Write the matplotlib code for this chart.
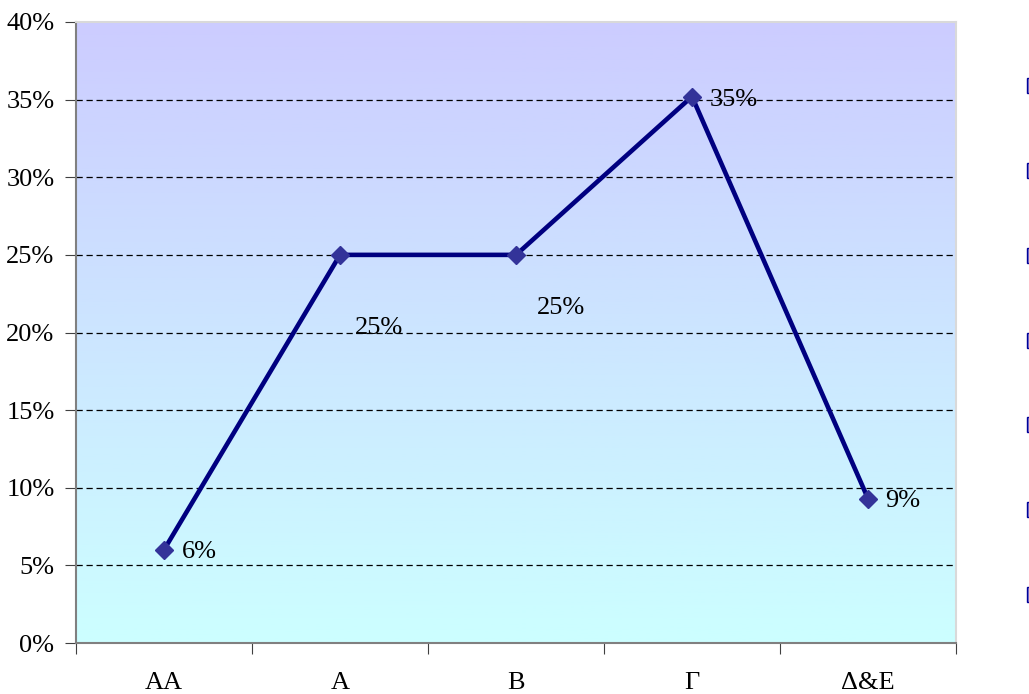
import matplotlib
matplotlib.use("Agg")
import matplotlib.pyplot as plt
import numpy as np
from matplotlib.patches import Patch
from matplotlib.colors import LinearSegmentedColormap

# data
categories = ["AA", "A", "B", "Γ", "Δ&E"]
shares = [6.0, 25.0, 25.0, 35.2, 9.3]
# where each data label sits relative to its point (pixels)
label_offsets = [(18, -2), (15, -73), (21, -53), (18, -3), (17, -2)]
y_ticks = [0, 5, 10, 15, 20, 25, 30, 35, 40]
n_legend_keys = 7

plt.rcParams["font.family"] = ["Liberation Serif", "DejaVu Serif"]
FS = 19

fig = plt.figure(figsize=(10.29, 6.94), dpi=100)
ax = fig.add_axes([76 / 1029, 51 / 694, 880 / 1029, 621 / 694])

x = np.arange(len(categories))
ax.set_xlim(-0.5, len(categories) - 0.5)
ax.set_ylim(0, 40)

# vertical gradient fill, lavender at top to pale cyan at bottom
grad = LinearSegmentedColormap.from_list("bg", ["#CCFFFF", "#CCCCFF"])
ax.imshow(np.linspace(0, 1, 256).reshape(-1, 1), aspect="auto", cmap=grad,
          origin="lower", extent=[0, 1, 0, 1], transform=ax.transAxes, zorder=0)

for t in y_ticks[1:-1]:
    ax.axhline(t, color="black", lw=0.9, ls=(0, (5, 3)), zorder=1)

ax.plot(x, shares, color="#000080", lw=3.3, marker="D", markersize=9,
        markerfacecolor="#333399", markeredgecolor="#333399", zorder=3)

for xi, v, (dx, dy) in zip(x, shares, label_offsets):
    ax.annotate(f"{v:.0f}%", (xi, v), xytext=(dx, dy), textcoords="offset pixels",
                ha="left", va="center", fontsize=FS, color="black", zorder=4)

ax.set_yticks(y_ticks)
ax.set_yticklabels([f"{t}%" for t in y_ticks], fontsize=FS)
ax.set_xticks(np.arange(len(categories) + 1) - 0.5)
ax.set_xticklabels([])
ax.set_xticks(x, minor=True)
ax.set_xticklabels(categories, minor=True, fontsize=FS)
ax.tick_params(axis="x", which="minor", length=0, pad=21)
ax.tick_params(axis="x", which="major", length=8, direction="out", color="#404040")
ax.tick_params(axis="y", length=8, direction="out", color="#404040", pad=7.5)

for side in ["left", "bottom"]:
    ax.spines[side].set_color("#808080")
    ax.spines[side].set_linewidth(1.5)
for side in ["top", "right"]:
    ax.spines[side].set_color("#D9D9D9")
    ax.spines[side].set_linewidth(1.5)

# legend that runs off the right edge, only the key edges show
handles = [Patch(facecolor="#8080D0", edgecolor="#000099", linewidth=1.0)
           for _ in range(n_legend_keys)]
fig.legend(handles, [" "] * n_legend_keys, loc="upper left",
           bbox_to_anchor=(1027 / 1029, 1 - 78 / 694), frameon=False,
           handlelength=0.5, handleheight=0.5, labelspacing=2.38, fontsize=FS,
           borderpad=0, borderaxespad=0)

fig.savefig("out.png", dpi=100)
